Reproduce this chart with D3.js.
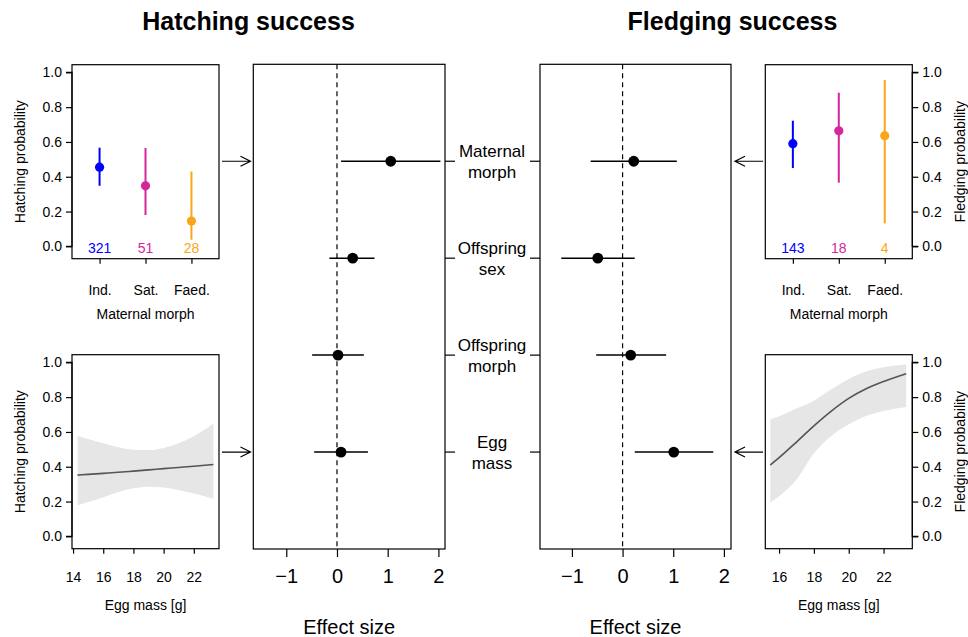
<!DOCTYPE html>
<html>
<head>
<meta charset="utf-8">
<script src="https://cdn.jsdelivr.net/npm/d3@7"></script>
<style>
  body { margin: 0; background: #fff; }
  svg { font-family: "Liberation Sans", Arial, Helvetica, sans-serif; }
</style>
</head>
<body>
<svg id="chart" width="968" height="637"></svg>
<script>
// maternal morph categories and per-morph estimates
var morphs = ["Ind.", "Sat.", "Faed."];
var morphColor = ["#0000ff", "#d4279b", "#fba51a"];

var hatchMorphEst = [0.455, 0.348, 0.145];
var hatchMorphLo = [0.348, 0.180, 0.038];
var hatchMorphHi = [0.567, 0.565, 0.430];
var hatchMorphN = [321, 51, 28];

var fledgeMorphEst = [0.590, 0.664, 0.636];
var fledgeMorphLo = [0.450, 0.366, 0.132];
var fledgeMorphHi = [0.722, 0.883, 0.956];
var fledgeMorphN = [143, 18, 4];

// egg mass curves
var hatchMass = [14.3, 15, 16, 17, 18, 19, 20, 21, 22, 23.3];
var hatchFit = [0.352, 0.356, 0.362, 0.368, 0.375, 0.382, 0.389, 0.396, 0.403, 0.413];
var hatchUpper = [0.577, 0.560, 0.535, 0.512, 0.498, 0.496, 0.508, 0.535, 0.575, 0.648];
var hatchLower = [0.179, 0.198, 0.225, 0.255, 0.276, 0.285, 0.281, 0.266, 0.246, 0.216];

var fledgeMass = [15.5, 16, 17, 18, 19, 20, 21, 22, 23.3];
var fledgeFit = [0.410, 0.452, 0.542, 0.635, 0.720, 0.793, 0.848, 0.890, 0.935];
var fledgeUpper = [0.673, 0.690, 0.735, 0.780, 0.845, 0.905, 0.948, 0.972, 0.988];
var fledgeLower = [0.193, 0.230, 0.327, 0.478, 0.577, 0.644, 0.692, 0.720, 0.744];

// effect sizes
var effects = [["Maternal", "morph"], ["Offspring", "sex"], ["Offspring", "morph"], ["Egg", "mass"]];
var hatchEffEst = [1.06, 0.31, 0.02, 0.08];
var hatchEffLo = [0.08, -0.15, -0.49, -0.45];
var hatchEffHi = [2.04, 0.74, 0.53, 0.61];
var fledgeEffEst = [0.22, -0.49, 0.16, 1.01];
var fledgeEffLo = [-0.63, -1.21, -0.52, 0.24];
var fledgeEffHi = [1.07, 0.24, 0.86, 1.79];

var probTicks = [0, 0.2, 0.4, 0.6, 0.8, 1.0];
var effTicks = [-1, 0, 1, 2];

var svg = d3.select("#chart");

function box(g, x, y, w, h) {
  g.append("rect").attr("x", x).attr("y", y).attr("width", w).attr("height", h)
    .attr("fill", "none").attr("stroke", "#000").attr("stroke-width", 1.2);
}

function probAxis(x0, y, side, label) {
  var ax = side == "left" ? d3.axisLeft(y) : d3.axisRight(y);
  ax.tickValues(probTicks).tickFormat(d3.format(".1f")).tickSize(6).tickPadding(4);
  var g = svg.append("g").attr("transform", "translate(" + x0 + ",0)").call(ax);
  g.select(".domain").attr("d", "M" + (side == "left" ? -6 : 6) + "," + y(1) + "H0V" + y(0) + "H" + (side == "left" ? -6 : 6))
    .attr("stroke-width", 1.2);
  g.selectAll(".tick line").attr("stroke-width", 1.2);
  g.selectAll("text").attr("font-size", 14).attr("fill", "#000");
  var cy = (y.range()[0] + y.range()[1]) / 2;
  var lx = side == "left" ? 20 : 960;
  svg.append("text").attr("transform", "translate(" + lx + "," + cy + ") rotate(-90)")
    .attr("text-anchor", "middle").attr("dy", "0.35em").attr("font-size", 14).text(label);
}

function morphPanel(x0, side, est, lo, hi, n, label) {
  var top = 64.7, h = 194, w = 147;
  var x = d3.scalePoint().domain(morphs).range([x0 + 0.6 * w / 3.2, x0 + 2.6 * w / 3.2]);
  var y = d3.scaleLinear().domain([-0.071, 1.044]).range([top + h, top]);
  box(svg, x0, top, w, h);
  probAxis(side == "left" ? x0 : x0 + w, y, side, label);

  var xa = svg.append("g").attr("transform", "translate(0," + (top + h) + ")")
    .call(d3.axisBottom(x).tickSize(5).tickPadding(21));
  xa.select(".domain").remove();
  xa.selectAll(".tick line").attr("stroke-width", 1.2);
  xa.selectAll("text").attr("font-size", 14).attr("fill", "#000");
  svg.append("text").attr("x", x0 + w / 2).attr("y", 319).attr("text-anchor", "middle")
    .attr("font-size", 14).text("Maternal morph");

  var g = svg.append("g");
  g.selectAll("line.ci").data(morphs).join("line")
    .attr("x1", function(d) { return x(d); }).attr("x2", function(d) { return x(d); })
    .attr("y1", function(d, i) { return y(lo[i]); }).attr("y2", function(d, i) { return y(hi[i]); })
    .attr("stroke", function(d, i) { return morphColor[i]; }).attr("stroke-width", 2);
  g.selectAll("circle").data(morphs).join("circle")
    .attr("cx", function(d) { return x(d); }).attr("cy", function(d, i) { return y(est[i]); })
    .attr("r", 4.6).attr("fill", function(d, i) { return morphColor[i]; });
  g.selectAll("text").data(morphs).join("text")
    .attr("x", function(d) { return x(d); }).attr("y", y(0) + 7)
    .attr("text-anchor", "middle").attr("font-size", 14)
    .attr("fill", function(d, i) { return morphColor[i]; })
    .text(function(d, i) { return n[i]; });
}

function massPanel(x0, side, domain, ticks, mass, fit, upper, lower, label) {
  var top = 354.7, h = 194, w = 147;
  var x = d3.scaleLinear().domain(domain).range([x0, x0 + w]);
  var y = d3.scaleLinear().domain([-0.071, 1.044]).range([top + h, top]);
  var band = d3.area().curve(d3.curveMonotoneX)
    .x(function(d, i) { return x(mass[i]); })
    .y0(function(d, i) { return y(lower[i]); })
    .y1(function(d, i) { return y(upper[i]); });
  svg.append("path").datum(mass).attr("d", band).attr("fill", "#e6e6e6");
  var line = d3.line().curve(d3.curveMonotoneX)
    .x(function(d, i) { return x(mass[i]); })
    .y(function(d, i) { return y(fit[i]); });
  svg.append("path").datum(mass).attr("d", line).attr("fill", "none")
    .attr("stroke", "#555").attr("stroke-width", 1.6);
  box(svg, x0, top, w, h);
  probAxis(side == "left" ? x0 : x0 + w, y, side, label);

  var xa = svg.append("g").attr("transform", "translate(0," + (top + h) + ")")
    .call(d3.axisBottom(x).tickValues(ticks).tickSize(5).tickPadding(18));
  xa.select(".domain").remove();
  xa.selectAll(".tick line").attr("stroke-width", 1.2);
  xa.selectAll("text").attr("font-size", 14).attr("fill", "#000");
  svg.append("text").attr("x", x0 + w / 2).attr("y", 610).attr("text-anchor", "middle")
    .attr("font-size", 14).text("Egg mass [g]");
}

function forest(x0, w, domain, est, lo, hi, tickSide) {
  var top = 64.3, bottom = 549;
  var x = d3.scaleLinear().domain(domain).range([x0, x0 + w]);
  var y = d3.scaleLinear().domain([0, 5]).range([top, bottom]);
  box(svg, x0, top, w, bottom - top);
  svg.append("line").attr("x1", x(0)).attr("x2", x(0)).attr("y1", top).attr("y2", bottom)
    .attr("stroke", "#000").attr("stroke-width", 1.2).attr("stroke-dasharray", "5,4");

  var xa = svg.append("g").attr("transform", "translate(0," + bottom + ")")
    .call(d3.axisBottom(x).tickValues(effTicks).tickSize(8).tickPadding(12).tickFormat(d3.format("d")));
  xa.select(".domain").remove();
  xa.selectAll(".tick line").attr("stroke-width", 1.2);
  xa.selectAll("text").attr("font-size", 20).attr("fill", "#000")
    .text(function(d) { return d < 0 ? "\u2212" + Math.abs(d) : d; });
  svg.append("text").attr("x", x0 + w / 2).attr("y", 634).attr("text-anchor", "middle")
    .attr("font-size", 20).text("Effect size");

  var tx = tickSide == "right" ? x0 + w : x0;
  var dx = tickSide == "right" ? 10 : -10;
  svg.append("g").selectAll("line").data(effects).join("line")
    .attr("x1", tx).attr("x2", tx + dx)
    .attr("y1", function(d, i) { return y(i + 1); }).attr("y2", function(d, i) { return y(i + 1); })
    .attr("stroke", "#000").attr("stroke-width", 1.2);

  var g = svg.append("g");
  g.selectAll("line").data(effects).join("line")
    .attr("x1", function(d, i) { return x(lo[i]); }).attr("x2", function(d, i) { return x(hi[i]); })
    .attr("y1", function(d, i) { return y(i + 1); }).attr("y2", function(d, i) { return y(i + 1); })
    .attr("stroke", "#000").attr("stroke-width", 1.5);
  g.selectAll("circle").data(effects).join("circle")
    .attr("cx", function(d, i) { return x(est[i]); }).attr("cy", function(d, i) { return y(i + 1); })
    .attr("r", 5.4).attr("fill", "#000");
  return y;
}

function arrow(x1, x2, y) {
  var s = x2 > x1 ? 1 : -1;
  svg.append("path")
    .attr("d", "M" + x1 + "," + y + "H" + x2 + "M" + (x2 - s * 10) + "," + (y - 5) + "L" + x2 + "," + y + "L" + (x2 - s * 10) + "," + (y + 5))
    .attr("fill", "none").attr("stroke", "#000").attr("stroke-width", 1.2);
}

// titles
svg.append("text").attr("x", 248.5).attr("y", 30).attr("text-anchor", "middle")
  .attr("font-size", 25).attr("font-weight", "bold").text("Hatching success");
svg.append("text").attr("x", 732.5).attr("y", 30).attr("text-anchor", "middle")
  .attr("font-size", 25).attr("font-weight", "bold").text("Fledging success");

morphPanel(72, "left", hatchMorphEst, hatchMorphLo, hatchMorphHi, hatchMorphN, "Hatching probability");
massPanel(72, "left", [13.93, 23.67], [14, 16, 18, 20, 22], hatchMass, hatchFit, hatchUpper, hatchLower, "Hatching probability");
morphPanel(765.3, "right", fledgeMorphEst, fledgeMorphLo, fledgeMorphHi, fledgeMorphN, "Fledging probability");
massPanel(765.3, "right", [15.21, 23.65], [16, 18, 20, 22], fledgeMass, fledgeFit, fledgeUpper, fledgeLower, "Fledging probability");

var yRow = forest(253.3, 191.7, [-1.65, 2.13], hatchEffEst, hatchEffLo, hatchEffHi, "right");
forest(540, 191, [-1.63, 2.14], fledgeEffEst, fledgeEffLo, fledgeEffHi, "left");

// effect labels between the forest plots
var lab = svg.append("g").selectAll("text").data(effects).join("text")
  .attr("x", 492).attr("y", function(d, i) { return yRow(i + 1) - 4; })
  .attr("text-anchor", "middle").attr("font-size", 17);
lab.append("tspan").attr("x", 492).text(function(d) { return d[0]; });
lab.append("tspan").attr("x", 492).attr("dy", 21).text(function(d) { return d[1]; });

arrow(222, 250.5, yRow(1));
arrow(222, 250.5, yRow(4));
arrow(763, 735, yRow(1));
arrow(763, 735, yRow(4));
</script>
</body>
</html>
